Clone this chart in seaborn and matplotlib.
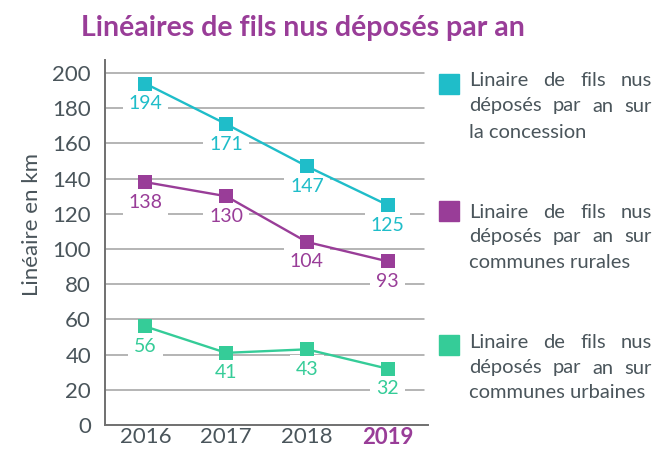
import matplotlib
matplotlib.use("Agg")
import matplotlib.pyplot as plt
import seaborn as sns
import pandas as pd

years = [2016, 2017, 2018, 2019]
year_labels = ["2016", "2017", "2018", "2019"]
concession = [194, 171, 147, 125]
rurales = [138, 130, 104, 93]
urbaines = [56, 41, 43, 32]
series_names = [
    "Linaire de fils nus déposés par an sur la concession",
    "Linaire de fils nus déposés par an sur communes rurales",
    "Linaire de fils nus déposés par an sur communes urbaines",
]
legend_lines = [
    ["Linaire de fils nus", "déposés par an sur", "la concession"],
    ["Linaire de fils nus", "déposés par an sur", "communes rurales"],
    ["Linaire de fils nus", "déposés par an sur", "communes urbaines"],
]
colors = ["#1FBDC9", "#993D98", "#35CC98"]
title = "Linéaires de fils nus déposés par an"
ylabel = "Linéaire en km"
yticks = [0, 20, 40, 60, 80, 100, 120, 140, 160, 180, 200]

sns.set_theme(style="white")
plt.rcParams["font.family"] = ["Lato", "DejaVu Sans"]
text_gray = "#4A555B"

rows = []
for name, vals in zip(series_names, [concession, rurales, urbaines]):
    for y, v in zip(years, vals):
        rows.append({"year": y, "value": v, "series": name})
df = pd.DataFrame(rows)

fig = plt.figure(figsize=(6.54, 4.49), dpi=100)
ax = fig.add_axes([105 / 654, 1 - 425 / 449, 323 / 654, 365 / 449])

for yv in yticks[1:]:
    ax.plot([2015.5, 2019.45], [yv, yv], color="#A0A0A0", lw=1.1, zorder=1)

sns.lineplot(data=df, x="year", y="value", hue="series", palette=colors,
             marker="s", markersize=9.5, markeredgewidth=0, linewidth=1.7,
             legend=False, ax=ax, zorder=3)

for name, vals, c in zip(series_names, [concession, rurales, urbaines], colors):
    for y, v in zip(years, vals):
        ax.annotate(str(v), (y, v), xytext=(0, -20), textcoords="offset pixels",
                    ha="center", va="center", color=c, fontsize=14, zorder=2,
                    bbox=dict(boxstyle="square,pad=0.3", fc="white", ec="none"))

ax.set_xlim(2015.5, 2019.5)
ax.set_ylim(0, 207.4)
ax.set_yticks(yticks)
ax.set_yticklabels([str(t) for t in yticks], fontsize=16, color=text_gray)
ax.set_xticks(years)
ax.set_xticklabels(year_labels, fontsize=16, color=text_gray)
ax.get_xticklabels()[-1].set_color("#993D98")
ax.get_xticklabels()[-1].set_fontweight("bold")
ax.set_xticks([2016.5, 2017.5, 2018.5], minor=True)
ax.tick_params(axis="x", which="major", length=0, pad=1.5)
ax.tick_params(axis="x", which="minor", length=8, width=1.2, color="#707070", direction="out")
ax.tick_params(axis="y", length=0, pad=10)
ax.set_xlabel("")
ax.set_ylabel(ylabel, fontsize=16, color=text_gray)
ax.yaxis.set_label_coords(-63 / 323, 0.548)
for s in ["top", "right"]:
    ax.spines[s].set_visible(False)
for s in ["left", "bottom"]:
    ax.spines[s].set_color("#707070")
    ax.spines[s].set_linewidth(1.4)

fig.text(303 / 654, 1 - 28 / 449, title, ha="center", va="center",
         fontsize=20.5, fontweight="bold", color="#993D98")

# legend (justified text block)
W, H = 654, 449
square_y = [84, 211, 345]
line_y = [[80, 106, 132], [212, 237, 262], [342, 368, 393]]
x0, x1 = 469, 652
renderer = fig.canvas.get_renderer()
for lines, sq_y, ys, c in zip(legend_lines, square_y, line_y, colors):
    fig.patches.append(plt.Rectangle(((449 - 10) / W, 1 - (sq_y + 10) / H), 20 / W, 20 / H,
                                     transform=fig.transFigure, color=c))
    for i, (line, yy) in enumerate(zip(lines, ys)):
        if i == len(lines) - 1:
            fig.text(x0 / W, 1 - yy / H, line, ha="left", va="center",
                     fontsize=14.5, color=text_gray)
            continue
        words = line.split()
        arts = [fig.text(0, 1 - yy / H, w, ha="left", va="center",
                         fontsize=14.5, color=text_gray) for w in words]
        widths = [a.get_window_extent(renderer).width for a in arts]
        gap = (x1 - x0 - sum(widths)) / (len(words) - 1)
        xx = x0
        for a, wd in zip(arts, widths):
            a.set_x(xx / W)
            xx += wd + gap

fig.savefig("out.png", dpi=100)
